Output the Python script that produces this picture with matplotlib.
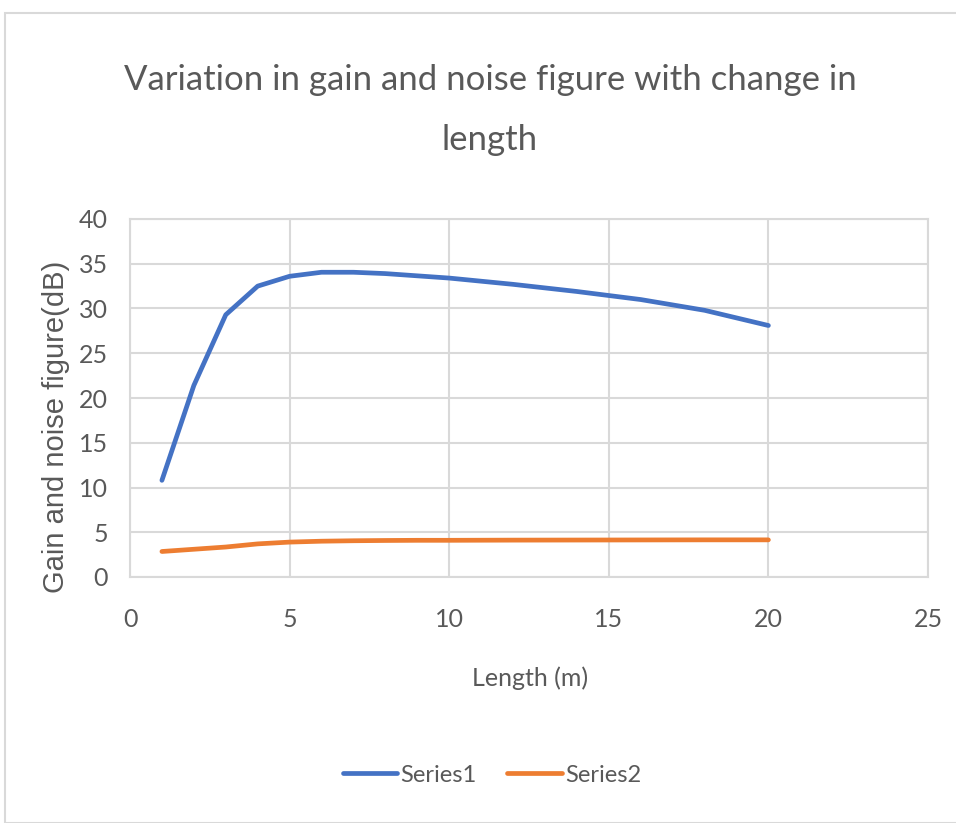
import matplotlib
matplotlib.use("Agg")
import matplotlib.pyplot as plt
from matplotlib.patches import Rectangle

length = [1, 2, 3, 4, 5, 6, 7, 8, 9, 10, 12, 14, 16, 18, 20]
series1 = [10.8, 21.4, 29.3, 32.5, 33.6, 34.05, 34.05, 33.9, 33.65, 33.4, 32.7, 31.9, 31.0, 29.8, 28.1]
series2 = [2.85, 3.1, 3.35, 3.7, 3.9, 4.0, 4.05, 4.08, 4.1, 4.1, 4.12, 4.13, 4.14, 4.15, 4.15]
xticks = [0, 5, 10, 15, 20, 25]
yticks = [0, 5, 10, 15, 20, 25, 30, 35, 40]

narrow = ["Lato", "DejaVu Sans"]
txt = "#595959"

fig = plt.figure(figsize=(9.56, 8.23), dpi=100)
fig.patches.append(Rectangle((5/956, 0), 1, 1 - 13/823, transform=fig.transFigure,
                             fill=False, edgecolor="#d9d9d9", linewidth=1.5))
ax = fig.add_axes([130/956, 1 - 577/823, (928 - 130)/956, (577 - 219)/823])

ax.plot(length, series1, color="#4472C4", lw=3.4, label="Series1", solid_capstyle="round")
ax.plot(length, series2, color="#ED7D31", lw=3.4, label="Series2", solid_capstyle="round")

ax.set_xlim(0, 25)
ax.set_ylim(0, 40)
ax.set_xticks(xticks)
ax.set_yticks(yticks)
ax.grid(True, color="#d9d9d9", lw=1.5)
ax.set_axisbelow(True)
for s in ax.spines.values():
    s.set_color("#d9d9d9")
    s.set_linewidth(1.5)
ax.tick_params(length=0, labelsize=18, colors=txt)
ax.tick_params(axis="y", pad=16)
ax.tick_params(axis="x", pad=22)
for lab in ax.get_xticklabels() + ax.get_yticklabels():
    lab.set_family(narrow)

fig.text(530/956, 1 - 678/823, "Length (m)", ha="center", va="center",
         fontsize=18, color=txt, family=narrow)
fig.text(56/956, 1 - 427/823, "Gain and noise figure(dB)", ha="center", va="center",
         rotation=90, fontsize=21, color=txt, family="Liberation Sans")

fig.text(490/956, 1 - 80/823, "Variation in gain and noise figure with change in",
         ha="center", va="center", fontsize=25, color=txt, family=narrow)
fig.text(490/956, 1 - 140/823, "length",
         ha="center", va="center", fontsize=25, color=txt, family=narrow)

leg = fig.legend(*ax.get_legend_handles_labels(), loc="center", bbox_to_anchor=(492/956, 1 - 775/823),
                 ncol=2, frameon=False, fontsize=17, handlelength=2.3, columnspacing=1.3,
                 handletextpad=0.15)
for t in leg.get_texts():
    t.set_color(txt)
    t.set_family(narrow)

fig.savefig("out.png", dpi=100, facecolor="white")
